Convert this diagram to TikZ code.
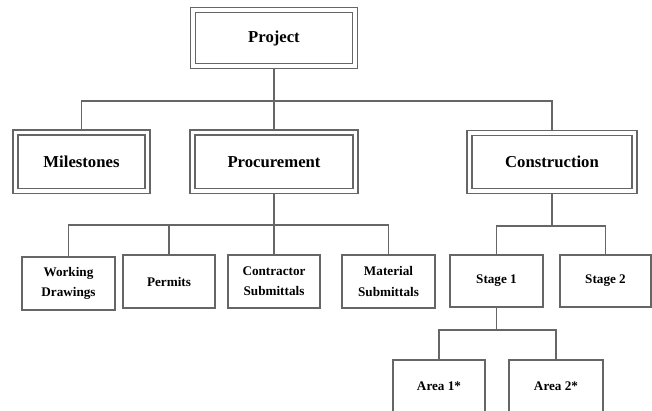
\documentclass[tikz,border=0pt]{standalone}
\usepackage{fontspec}
\setmainfont{Liberation Serif}
\usetikzlibrary{arrows,backgrounds}

\tikzset{
    bigbox/.style={draw=black!60, line width=0.8pt, double, double distance=2pt, fill=white,
        inner sep=0pt, font=\bfseries\fontsize{9.5}{11}\selectfont},
    smallbox/.style={draw=black!60, line width=0.8pt, fill=white, inner sep=0pt, align=center,
        font=\bfseries\fontsize{7.5}{11.5}\selectfont},
    link/.style={draw=black!60, line width=0.8pt}
}

\begin{document}
\begin{tikzpicture}[x=0.02cm, y=-0.02cm]
    \useasboundingbox (0,0) rectangle (652,411);
    \clip (0,0) rectangle (652,411);

    % 顶层
    \node[bigbox, minimum width=3.24cm, minimum height=1.13cm] (project) at (274,38) {Project};

    % 第二层
    \node[bigbox, minimum width=2.64cm, minimum height=1.17cm] (milestones) at (81.5,161.75) {Milestones};
    \node[bigbox, minimum width=3.26cm, minimum height=1.17cm] (procurement) at (274,161.75) {Procurement};
    \node[bigbox, minimum width=3.3cm, minimum height=1.17cm] (construction) at (552,162) {Construction};

    % 第三层
    \node[smallbox, minimum width=1.86cm, minimum height=1.06cm] (working) at (68.5,283.5) {Working\\Drawings};
    \node[smallbox, minimum width=1.84cm, minimum height=1.06cm] (permits) at (169,281.5) {Permits};
    \node[smallbox, minimum width=1.84cm, minimum height=1.06cm] (contractor) at (274,281.5) {Contractor\\Submittals};
    \node[smallbox, minimum width=1.86cm, minimum height=1.06cm] (material) at (388.5,281.5) {Material\\Submittals};
    \node[smallbox, minimum width=1.86cm, minimum height=1.04cm] (stage1) at (496.5,281) {Stage 1};
    \node[smallbox, minimum width=1.82cm, minimum height=1.04cm] (stage2) at (605.5,281) {Stage 2};

    % 第四层
    \node[smallbox, minimum width=1.84cm, minimum height=1.04cm] (area1) at (439,386) {Area 1*};
    \node[smallbox, minimum width=1.88cm, minimum height=1.04cm] (area2) at (556,386) {Area 2*};

    % 分支点
    \coordinate (B1) at (274,101);
    \coordinate (B2) at (274,225);
    \coordinate (B3) at (552,226);
    \coordinate (B4) at (496.5,330);

    % 连线
    \begin{scope}[on background layer]
        \draw[link] (project.south) -- (procurement.north);
        \draw[link] (milestones.north) |- (B1) -| (construction.north);
        \draw[link] (procurement.south) -- (contractor.north);
        \draw[link] (working.north) |- (B2) -| (material.north);
        \draw[link] (permits.north) -- (permits.north |- B2);
        \draw[link] (construction.south) -- (B3);
        \draw[link] (stage1.north) |- (B3) -| (stage2.north);
        \draw[link] (stage1.south) -- (B4);
        \draw[link] (area1.north) |- (B4) -| (area2.north);
    \end{scope}

\end{tikzpicture}
\end{document}
